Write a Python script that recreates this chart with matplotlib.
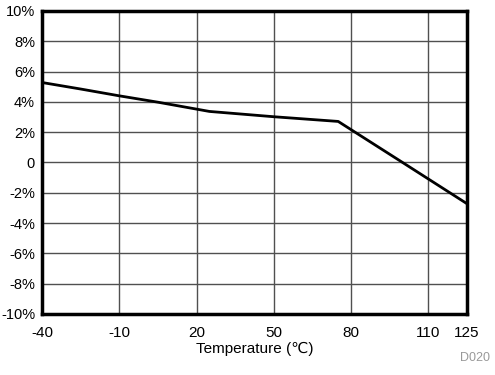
import matplotlib.pyplot as plt

plt.rcParams['font.family'] = ['Liberation Sans', 'DejaVu Sans']
plt.rcParams['axes.unicode_minus'] = False

temps = [-40, -25, -10, 5, 25, 50, 75, 100, 125]
change = [5.28, 4.85, 4.4, 3.98, 3.37, 3.02, 2.71, 0.0, -2.72]
xticks = [-40, -10, 20, 50, 80, 110, 125]
yticks = [-10, -8, -6, -4, -2, 0, 2, 4, 6, 8, 10]
ylabels = ['-10%', '-8%', '-6%', '-4%', '-2%', '0', '2%', '4%', '6%', '8%', '10%']

fig = plt.figure(figsize=(4.95, 3.75), dpi=100)
ax = fig.add_axes([0.0848, 0.1627, 0.8586, 0.808])
ax.plot(temps, change, color='black', linewidth=2)
ax.set_xlim(-40, 125)
ax.set_ylim(-10, 10)
ax.set_xticks(xticks)
ax.set_yticks(yticks)
ax.set_yticklabels(ylabels)
ax.tick_params(length=0, labelsize=11)
ax.tick_params(axis='x', pad=9)
ax.tick_params(axis='y', pad=5, labelsize=10.5)
ax.grid(True, color='#505050', linewidth=1)
for s in ax.spines.values():
    s.set_linewidth(2.5)
ax.set_xlabel('Temperature (℃)', fontsize=11, labelpad=1)
fig.text(0.99, 0.045, 'D020', color='#999999', fontsize=9, ha='right', va='center')
fig.savefig('out.png')
